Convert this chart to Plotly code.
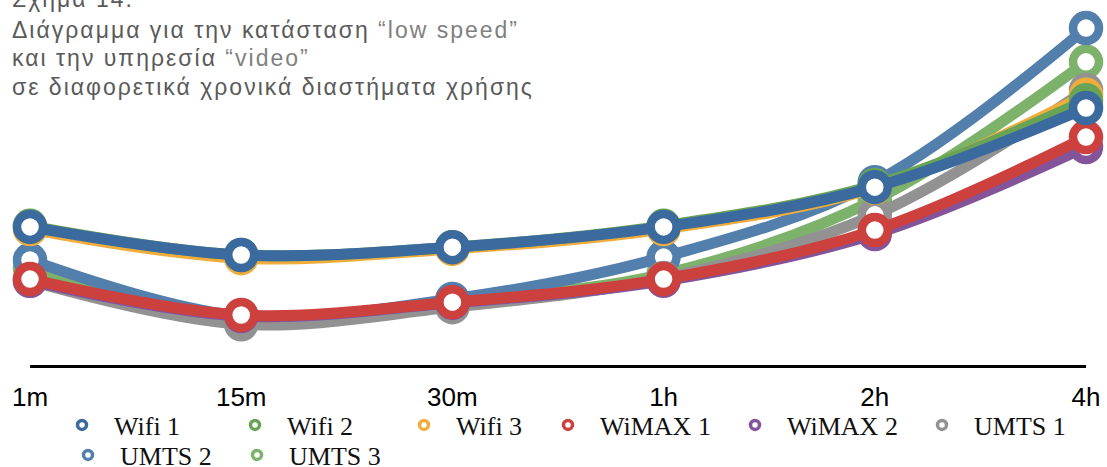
import plotly.graph_objects as go

# Usage periods on the horizontal axis
periods = ["1m", "15m", "30m", "1h", "2h", "4h"]

# Measured values per network
wifi_1 = [38.9, 31.0, 33.2, 38.9, 50.1, 72.4]
wifi_2 = [39.2, 31.0, 33.2, 39.2, 50.7, 74.6]
wifi_3 = [38.3, 30.1, 32.7, 38.3, 49.9, 76.1]
wimax_1 = [24.2, 14.1, 17.7, 24.2, 38.0, 64.2]
wimax_2 = [23.7, 13.8, 17.5, 23.7, 36.9, 61.4]
umts_1 = [23.7, 11.5, 16.3, 24.5, 42.3, 77.5]
umts_2 = [29.6, 13.8, 18.6, 30.4, 51.5, 94.9]
umts_3 = [27.3, 13.8, 18.0, 25.6, 46.5, 85.4]

series_names = ["Wifi 1", "Wifi 2", "Wifi 3", "WiMAX 1", "WiMAX 2",
                "UMTS 1", "UMTS 2", "UMTS 3"]
series_values = [wifi_1, wifi_2, wifi_3, wimax_1, wimax_2,
                 umts_1, umts_2, umts_3]
series_colors = ["#3b6a9e", "#69a456", "#f0ad3c", "#cc403d", "#83549a",
                 "#929292", "#537fad", "#7db26a"]

# legend slot (pixel centre of the symbol) for every series
legend_slots = [(82, 425), (255, 425), (424, 425), (568, 425), (755, 425),
                (942, 425), (88, 455), (257, 455)]
LEGEND_ITEM_W = 54
SYMBOL_OFFSET = LEGEND_ITEM_W / 2 + 5

W, H = 1107, 467
ML, MR, MT, MB = 30, 21, 10, 102
PW, PH = W - ML - MR, H - MT - MB

fig = go.Figure()

# later series sit underneath, so draw from the last one up to the first
for i in reversed(range(len(series_names))):
    fig.add_trace(go.Scatter(
        x=periods, y=series_values[i], name=series_names[i],
        mode="lines+markers",
        line=dict(color=series_colors[i], width=11, shape="spline", smoothing=1),
        marker=dict(symbol="circle", size=26, color="white",
                    line=dict(color=series_colors[i], width=8.5)),
        cliponaxis=False, showlegend=False, hoverinfo="skip",
    ))

legend_layouts = {}
for i, name in enumerate(series_names):
    key = "legend" if i == 0 else f"legend{i + 1}"
    fig.add_trace(go.Scatter(
        x=[None], y=[None], name=name, mode="markers",
        marker=dict(symbol="circle", size=9, color="white",
                    line=dict(color=series_colors[i], width=3.5)),
        showlegend=True, legend=key,
    ))
    sx, sy = legend_slots[i]
    legend_layouts[key] = dict(
        xref="container", yref="container",
        x=(sx - SYMBOL_OFFSET) / W, xanchor="left", y=1 - sy / H, yanchor="middle",
        orientation="h", bgcolor="rgba(0,0,0,0)", borderwidth=0,
        itemwidth=LEGEND_ITEM_W,
        font=dict(family="Liberation Serif", size=26, color="#111111"),
    )

spaced = "letter-spacing:2px"
title_lines = [
    f"<span style='{spaced}'>Σχήμα 14.</span>",
    f"<span style='{spaced}'>Διάγραμμα για την κατάσταση </span>"
    f"<span style='{spaced};color:#808080'>“low speed”</span>",
    f"<span style='{spaced}'>και την υπηρεσία </span>"
    f"<span style='{spaced};color:#808080'>“video”</span>",
    f"<span style='{spaced}'>σε διαφορετικά χρονικά διαστήματα χρήσης</span>",
]
title_centres = [-1, 30, 58, 87]
for line, cy in zip(title_lines, title_centres):
    fig.add_annotation(
        text=line, xref="paper", yref="paper",
        x=(10 - ML) / PW, xanchor="left", y=(H - MB - cy) / PH, yanchor="middle",
        showarrow=False, align="left",
        font=dict(family="Liberation Sans", size=23, color="#5a5a5a"),
    )

fig.update_layout(
    width=W, height=H,
    margin=dict(l=ML, r=MR, t=MT, b=MB, autoexpand=False),
    paper_bgcolor="white", plot_bgcolor="white",
    xaxis=dict(
        type="category", range=[0, len(periods) - 1],
        showline=True, linecolor="black", linewidth=3,
        showgrid=False, zeroline=False,
        ticks="outside", ticklen=7, tickcolor="rgba(0,0,0,0)",
        tickfont=dict(family="Liberation Sans", size=26, color="black"),
    ),
    yaxis=dict(range=[0, 100], visible=False, showgrid=False, zeroline=False),
    **legend_layouts,
)

fig.write_html("out.html")
